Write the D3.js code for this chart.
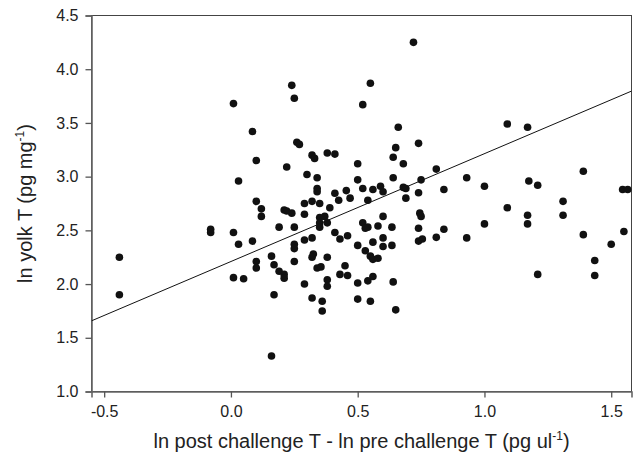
<!DOCTYPE html>
<html>
<head>
<meta charset="utf-8">
<script src="https://cdn.jsdelivr.net/npm/d3@7"></script>
<style>
  body { margin: 0; background: #fff; }
  text { font-family: "Liberation Sans", Arial, sans-serif; }
</style>
</head>
<body>
<div id="chart"></div>
<script>
// Values

// ln post challenge T - ln pre challenge T (x) for each female
const tChange = [
  -0.44, -0.44, -0.08, -0.08, 0.01, 0.03, 0.01, 0.03, 0.01, 0.05,
  0.085, 0.10, 0.10, 0.12, 0.12, 0.085, 0.10, 0.10, 0.16, 0.17,
  0.19, 0.21, 0.21, 0.17, 0.16, 0.19, 0.21, 0.22, 0.24, 0.22,
  0.24, 0.25, 0.26, 0.27, 0.25, 0.25, 0.25, 0.25, 0.29, 0.29,
  0.30, 0.29, 0.32, 0.29, 0.32, 0.33, 0.32, 0.35, 0.34, 0.34,
  0.34, 0.35, 0.35, 0.35, 0.37, 0.38, 0.325, 0.32, 0.34, 0.355,
  0.32, 0.36, 0.36, 0.38, 0.38, 0.38, 0.38, 0.41, 0.41, 0.425,
  0.455, 0.47, 0.39, 0.41, 0.43, 0.46, 0.45, 0.43, 0.46, 0.50,
  0.50, 0.52, 0.56, 0.59, 0.60, 0.54, 0.52, 0.54, 0.53, 0.58,
  0.635, 0.60, 0.50, 0.56, 0.60, 0.60, 0.635, 0.53, 0.55, 0.56,
  0.58, 0.50, 0.54, 0.56, 0.50, 0.55, 0.52, 0.55, 0.66, 0.65,
  0.64, 0.68, 0.64, 0.68, 0.69, 0.69, 0.64, 0.65, 0.72, 0.74,
  0.75, 0.74, 0.745, 0.75, 0.74, 0.74, 0.755, 0.81, 0.84, 0.84,
  0.81, 0.93, 0.93, 1.00, 1.00, 1.09, 1.09, 1.17, 1.175, 1.21,
  1.17, 1.17, 1.21, 1.31, 1.31, 1.39, 1.39, 1.435, 1.435, 1.50,
  1.55, 1.545, 1.565,
];

// ln yolk T (y), same order as tChange
const yolkT = [
  2.25, 1.90, 2.51, 2.48, 3.68, 2.96, 2.48, 2.37, 2.06, 2.05,
  3.42, 3.15, 2.77, 2.70, 2.63, 2.40, 2.21, 2.15, 2.26, 2.18,
  2.12, 2.09, 2.055, 1.90, 1.33, 2.53, 2.69, 2.68, 2.66, 3.09,
  3.85, 3.73, 3.32, 3.30, 2.53, 2.37, 2.33, 2.21, 2.75, 2.65,
  3.02, 2.41, 2.43, 2.00, 3.20, 3.17, 2.77, 2.75, 2.99, 2.89,
  2.86, 2.62, 2.57, 2.53, 2.63, 2.57, 2.28, 2.25, 2.15, 2.16,
  1.87, 1.84, 1.75, 2.25, 2.04, 1.98, 3.22, 3.21, 2.845, 2.78,
  2.87, 2.80, 2.71, 2.48, 2.42, 2.45, 2.17, 2.09, 2.08, 3.12,
  2.97, 2.89, 2.88, 2.91, 2.86, 2.78, 2.57, 2.53, 2.52, 2.54,
  2.53, 2.63, 2.36, 2.39, 2.43, 2.35, 2.36, 2.31, 2.26, 2.23,
  2.24, 2.01, 2.03, 2.07, 1.86, 1.84, 3.67, 3.87, 3.46, 3.27,
  3.18, 3.12, 2.99, 2.90, 2.89, 2.80, 2.02, 1.76, 4.25, 3.31,
  2.97, 2.85, 2.66, 2.63, 2.52, 2.40, 2.42, 3.07, 2.88, 2.51,
  2.435, 2.99, 2.43, 2.91, 2.56, 3.49, 2.71, 3.46, 2.96, 2.92,
  2.64, 2.56, 2.09, 2.77, 2.64, 3.05, 2.46, 2.22, 2.08, 2.37,
  2.49, 2.88, 2.88,
];

// Fitted line, y = intercept + slope * x
const fitIntercept = 2.21;
const fitSlope = 1.004;

// Axis ranges and ticks
const xDomain = [-0.55, 1.58];
const yDomain = [1.0, 4.5];
const xTicks = [-0.5, 0.0, 0.5, 1.0, 1.5];
const yTicks = [1.0, 1.5, 2.0, 2.5, 3.0, 3.5, 4.0, 4.5];

// Chart dimensions
const margin = { top: 15.5, right: 4.5, bottom: 62.5, left: 91.5 };
const width = 636 - margin.left - margin.right;
const height = 454 - margin.top - margin.bottom;
const dotRadius = 3.8;

const points = tChange.map((x, i) => ({ x: x, y: yolkT[i] }));

// Plain hyphen for negatives, like the original
const tickFormat = (d) => d3.format(".1f")(d).replace("\u2212", "-");

const svgRoot = d3
  .select("#chart")
  .append("svg")
  .attr("width", 636)
  .attr("height", 454);

const SVG = svgRoot
  .append("g")
  .attr("transform", "translate(" + margin.left + "," + margin.top + ")");

const x = d3.scaleLinear().domain(xDomain).range([0, width]);
const y = d3.scaleLinear().domain(yDomain).range([height, 0]);

svgRoot
  .append("defs")
  .append("clipPath")
  .attr("id", "plotClip")
  .append("rect")
  .attr("width", width)
  .attr("height", height);

// Frame round the plot
SVG.append("rect")
  .attr("width", width)
  .attr("height", height)
  .attr("fill", "none")
  .attr("stroke", "#444")
  .attr("stroke-width", 1);

// Axes
const xAxis = SVG.append("g")
  .attr("transform", "translate(0," + height + ")")
  .call(d3.axisBottom(x).tickValues(xTicks).tickFormat(tickFormat).tickSize(6).tickPadding(8));

const yAxis = SVG.append("g")
  .call(d3.axisLeft(y).tickValues(yTicks).tickFormat(tickFormat).tickSize(6).tickPadding(7));

[xAxis, yAxis].forEach((g) => {
  g.select(".domain").attr("stroke", "#666").attr("stroke-width", 1.6);
  g.selectAll(".tick line").attr("stroke", "#555").attr("stroke-width", 1.3);
  g.selectAll(".tick text")
    .attr("fill", "#222")
    .style("font-size", "16px")
    .style("font-family", '"Liberation Sans", Arial, sans-serif');
});

// Regression line
SVG.append("line")
  .attr("clip-path", "url(#plotClip)")
  .attr("x1", x(xDomain[0]))
  .attr("y1", y(fitIntercept + fitSlope * xDomain[0]))
  .attr("x2", x(xDomain[1]))
  .attr("y2", y(fitIntercept + fitSlope * xDomain[1]))
  .attr("stroke", "#111")
  .attr("stroke-width", 1);

// Dots
SVG.append("g")
  .selectAll("circle")
  .data(points)
  .join("circle")
  .attr("cx", (d) => x(d.x))
  .attr("cy", (d) => y(d.y))
  .attr("r", dotRadius)
  .attr("fill", "#111");

// Axis titles
const xTitle = SVG.append("text")
  .attr("x", width / 2)
  .attr("y", height + 56)
  .attr("text-anchor", "middle")
  .attr("fill", "#222")
  .style("font-size", "20px");
xTitle.append("tspan").text("ln post challenge T - ln pre challenge T (pg ul");
xTitle.append("tspan").attr("dy", -8).style("font-size", "12px").text("-1");
xTitle.append("tspan").attr("dy", 8).text(")");

const yTitle = SVG.append("text")
  .attr("transform", "translate(" + (32 - margin.left) + "," + height / 2 + ") rotate(-90)")
  .attr("text-anchor", "middle")
  .attr("fill", "#222")
  .style("font-size", "20px");
yTitle.append("tspan").text("ln yolk T (pg mg");
yTitle.append("tspan").attr("dy", -8).style("font-size", "12px").text("-1");
yTitle.append("tspan").attr("dy", 8).text(")");
</script>
</body>
</html>
